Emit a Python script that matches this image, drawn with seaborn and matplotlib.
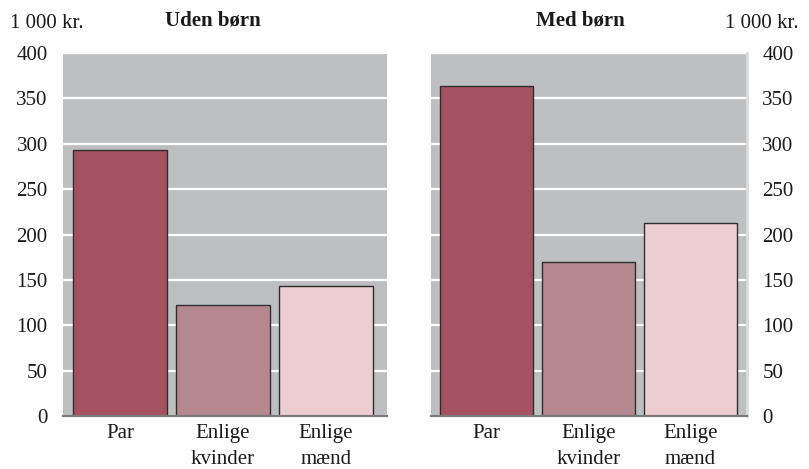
import matplotlib
matplotlib.use("Agg")
import matplotlib.pyplot as plt
import seaborn as sns
import pandas as pd

categories = ["Par", "Enlige\nkvinder", "Enlige\nmænd"]
uden_boern = [293, 122, 143]
med_boern = [364, 170, 213]
panel_titles = ["Uden børn", "Med børn"]
unit_label = "1 000 kr."
y_ticks = [0, 50, 100, 150, 200, 250, 300, 350, 400]

bar_colors = ["#a55260", "#b5878e", "#ecced0"]
panel_bg = "#bebfc1"
text_color = "#1a1a1a"
fs = 15

sns.set_theme(style="white")
plt.rcParams["font.family"] = ["Liberation Serif", "DejaVu Serif"]

fig = plt.figure(figsize=(8.09, 4.69), dpi=100)
ax_left = fig.add_axes([63 / 809, 53 / 469, 324 / 809, 363 / 469])
ax_right = fig.add_axes([431 / 809, 53 / 469, 316 / 809, 363 / 469])


def draw_panel(ax, values, xlim, side):
    df = pd.DataFrame({"gruppe": categories, "beløb": values})
    ax.set_facecolor(panel_bg)
    ax.set_axisbelow(True)
    ax.yaxis.grid(True, color="white", linewidth=1.6)
    ax.xaxis.grid(False)
    sns.barplot(data=df, x="gruppe", y="beløb", hue="gruppe",
                palette=bar_colors, width=0.91, edgecolor="#2e2e2e",
                linewidth=1.0, saturation=1, legend=False, ax=ax)
    ax.set_xlim(*xlim)
    ax.set_ylim(0, 400)
    ax.set_yticks(y_ticks)
    ax.set_xlabel("")
    ax.set_ylabel("")
    ax.tick_params(axis="both", length=0, labelsize=fs, colors=text_color)
    ax.tick_params(axis="x", pad=6)
    ax.tick_params(axis="y", pad=11)
    for name in ("top", "left", "right"):
        ax.spines[name].set_visible(False)
    ax.spines["bottom"].set_color("#7a7a7a")
    ax.spines["bottom"].set_linewidth(1.6)
    if side == "right":
        ax.yaxis.tick_right()
        ax.spines["right"].set_visible(True)
        ax.spines["right"].set_color("#dcdcdc")
        ax.spines["right"].set_linewidth(2)
    for lbl in ax.get_xticklabels():
        lbl.set_linespacing(1.45)


draw_panel(ax_left, uden_boern, (-0.553, 2.592), "left")
draw_panel(ax_right, med_boern, (-0.544, 2.554), "right")

fig.text(10 / 809, 1 - 28 / 469, unit_label, fontsize=fs, ha="left",
         va="baseline", color=text_color)
fig.text(799 / 809, 1 - 28 / 469, unit_label, fontsize=fs, ha="right",
         va="baseline", color=text_color)
fig.text(213 / 809, 1 - 25 / 469, panel_titles[0], fontsize=fs,
         fontweight="bold", ha="center", va="baseline", color=text_color)
fig.text(580 / 809, 1 - 25 / 469, panel_titles[1], fontsize=fs,
         fontweight="bold", ha="center", va="baseline", color=text_color)

fig.savefig("out.png", dpi=100, facecolor="white")
